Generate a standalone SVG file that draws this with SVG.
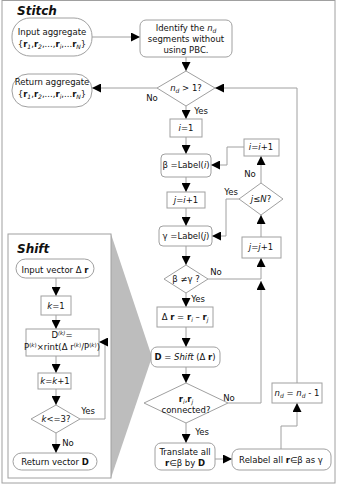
<svg xmlns="http://www.w3.org/2000/svg" width="337" height="485" viewBox="0 0 337 485">
<style>
text{font-family:"DejaVu Sans","Liberation Sans",sans-serif;font-size:8.5px;fill:#111;text-anchor:middle}
.t{font-size:12px;font-weight:bold;font-style:italic;text-anchor:start}
.b{font-weight:bold}
.i{font-style:italic}
.s{font-size:6px;font-style:italic}
.box{fill:#fff;stroke:#a0a0a0;stroke-width:1}
.c{fill:none;stroke:#a0a0a0;stroke-width:1}
</style>
<defs>
<marker id="a" markerUnits="userSpaceOnUse" markerWidth="10" markerHeight="9" refX="9" refY="4.5" orient="auto">
<path d="M0,0 L9,4.5 L0,9 z" fill="#000"/>
</marker>
</defs>
<rect x="2" y="0.5" width="333" height="482.5" fill="#fff" stroke="#a0a0a0"/>
<text class="t" x="17" y="15">Stitch</text>

<g id="shiftpanel">
<polygon points="111,234 152,357 111,478" fill="#bdbdbd"/>
<rect x="8" y="234" width="103" height="244" fill="#fff" stroke="#a0a0a0"/>
<text class="t" x="17" y="253">Shift</text>
</g>

<g id="connectors">
<path class="c" d="M92,37 H140" marker-end="url(#a)"/>
<path class="c" d="M186,57 V71" marker-end="url(#a)"/>
<path class="c" d="M157,88 H92" marker-end="url(#a)"/>
<path class="c" d="M186,106 V119" marker-end="url(#a)"/>
<path class="c" d="M186,137 V154" marker-end="url(#a)"/>
<path class="c" d="M186,177 V192" marker-end="url(#a)"/>
<path class="c" d="M186,208 V226" marker-end="url(#a)"/>
<path class="c" d="M186,246 V265" marker-end="url(#a)"/>
<path class="c" d="M186,293 V307" marker-end="url(#a)"/>
<path class="c" d="M186,327 V347" marker-end="url(#a)"/>
<path class="c" d="M186,367 V383" marker-end="url(#a)"/>
<path class="c" d="M186,423 V443" marker-end="url(#a)"/>
<path class="c" d="M215,459 H232" marker-end="url(#a)"/>
<path class="c" d="M281,449 V426 H297 V403" marker-end="url(#a)"/>
<path class="c" d="M297,383 V88 H215" marker-end="url(#a)"/>
<path class="c" d="M208,279 H261"/>
<path class="c" d="M228,403 H261 V281" marker-end="url(#a)"/>
<path class="c" d="M261,279 V258" marker-end="url(#a)"/>
<path class="c" d="M261,237 V215" marker-end="url(#a)"/>
<path class="c" d="M261,183 V156" marker-end="url(#a)"/>
<path class="c" d="M244,147 H227 V165 H211" marker-end="url(#a)"/>
<path class="c" d="M239,199 H226 V236 H212" marker-end="url(#a)"/>
<path class="c" d="M56,278 V296" marker-end="url(#a)"/>
<path class="c" d="M56,315 V329" marker-end="url(#a)"/>
<path class="c" d="M56,356 V373" marker-end="url(#a)"/>
<path class="c" d="M56,389 V405" marker-end="url(#a)"/>
<path class="c" d="M80,419 H105 V342 H99" marker-end="url(#a)"/>
<path class="c" d="M56,433 V453" marker-end="url(#a)"/>
<text x="152" y="101">No</text>
<text x="201" y="114">Yes</text>
<text x="250" y="177">No</text>
<text x="231" y="195">Yes</text>
<text x="216" y="275">No</text>
<text x="198" y="302">Yes</text>
<text x="229" y="401">No</text>
<text x="202" y="435">Yes</text>
<text x="88" y="414">Yes</text>
<text x="68" y="446">No</text>
</g>

<g id="input">
<rect class="box" x="12" y="18" width="80" height="38" rx="18"/>
<text x="52" y="35">Input aggregate</text>
<text x="52" y="47">{<tspan class="b">r</tspan><tspan class="s" dy="2">1</tspan><tspan dy="-2">,</tspan><tspan class="b">r</tspan><tspan class="s" dy="2">2</tspan><tspan dy="-2">,...,</tspan><tspan class="b">r</tspan><tspan class="s" dy="2">i</tspan><tspan dy="-2">,...</tspan><tspan class="b">r</tspan><tspan class="s" dy="2">N</tspan><tspan dy="-2">}</tspan></text>
</g>

<g id="identify">
<rect class="box" x="140" y="20" width="92" height="37" rx="6"/>
<text x="186" y="31">Identify the <tspan class="i">n</tspan><tspan class="s" dy="2">d</tspan></text>
<text x="186" y="42">segments without</text>
<text x="186" y="53">using PBC.</text>
</g>

<g id="return">
<rect class="box" x="12" y="74" width="80" height="33" rx="16"/>
<text x="52" y="85">Return aggregate</text>
<text x="52" y="97">{<tspan class="b">r</tspan><tspan class="s" dy="2">1</tspan><tspan dy="-2">,</tspan><tspan class="b">r</tspan><tspan class="s" dy="2">2</tspan><tspan dy="-2">,...,</tspan><tspan class="b">r</tspan><tspan class="s" dy="2">i</tspan><tspan dy="-2">,...</tspan><tspan class="b">r</tspan><tspan class="s" dy="2">N</tspan><tspan dy="-2">}</tspan></text>
</g>

<g id="ndgt1">
<polygon class="box" points="186,71 215,88 186,106 157,88"/>
<text x="186" y="91"><tspan class="i">n</tspan><tspan class="s" dy="2">d</tspan><tspan dy="-2"> &gt; 1?</tspan></text>
</g>

<g id="i1">
<rect class="box" x="170" y="119" width="32" height="18"/>
<text x="186" y="131"><tspan class="i">i</tspan>=1</text>
</g>

<g id="beta">
<rect class="box" x="161" y="154" width="50" height="23" rx="4"/>
<text x="186" y="168">β =Label(<tspan class="i">i</tspan>)</text>
</g>

<g id="jip1">
<rect class="box" x="167" y="192" width="38" height="16"/>
<text x="186" y="203"><tspan class="i">j</tspan>=<tspan class="i">i</tspan>+1</text>
</g>

<g id="gamma">
<rect class="box" x="159" y="226" width="53" height="20" rx="4"/>
<text x="186" y="239">γ =Label(<tspan class="i">j</tspan>)</text>
</g>

<g id="bneg">
<polygon class="box" points="186,265 208,279 186,293 164,279"/>
<text x="186" y="282">β ≠γ ?</text>
</g>

<g id="dr">
<rect class="box" x="157" y="307" width="56" height="20"/>
<text x="185" y="320">Δ <tspan class="b">r</tspan> = <tspan class="b">r</tspan><tspan class="s" dy="2">i</tspan><tspan dy="-2"> – </tspan><tspan class="b">r</tspan><tspan class="s" dy="2">j</tspan></text>
</g>

<g id="dshift">
<rect class="box" x="151" y="347" width="69" height="20" rx="6"/>
<text x="185" y="360"><tspan class="b">D</tspan> = <tspan class="i">Shift</tspan> (Δ <tspan class="b">r</tspan>)</text>
</g>

<g id="connected">
<polygon class="box" points="186,383 228,403 186,423 144,403"/>
<text x="186" y="402"><tspan class="b">r</tspan><tspan class="s" dy="2">i</tspan><tspan dy="-2">,</tspan><tspan class="b">r</tspan><tspan class="s" dy="2">j</tspan></text>
<text x="186" y="413">connected?</text>
</g>

<g id="translate">
<rect class="box" x="155" y="443" width="60" height="27" rx="6"/>
<text x="185" y="455">Translate all</text>
<text x="185" y="466"><tspan class="b">r</tspan>∈β  by <tspan class="b">D</tspan></text>
</g>

<g id="relabel">
<rect class="box" x="232" y="449" width="99" height="21" rx="7"/>
<text x="281" y="463">Relabel all <tspan class="b">r</tspan>∈β  as γ</text>
</g>

<g id="ndm1">
<rect class="box" x="272" y="383" width="50" height="20"/>
<text x="297" y="396"><tspan class="i">n</tspan><tspan class="s" dy="2">d</tspan><tspan dy="-2"> = </tspan><tspan class="i">n</tspan><tspan class="s" dy="2">d</tspan><tspan dy="-2"> - 1</tspan></text>
</g>

<g id="jjp1">
<rect class="box" x="242" y="237" width="39" height="21"/>
<text x="261" y="250"><tspan class="i">j</tspan>=<tspan class="i">j</tspan>+1</text>
</g>

<g id="jleN">
<polygon class="box" points="261,183 283,199 261,215 239,199"/>
<text x="261" y="202"><tspan class="i">j</tspan>≤<tspan class="i">N</tspan>?</text>
</g>

<g id="iip1">
<rect class="box" x="244" y="139" width="35" height="17"/>
<text x="261" y="150"><tspan class="i">i</tspan>=<tspan class="i">i</tspan>+1</text>
</g>

<g id="inputvec">
<rect class="box" x="16" y="259" width="78" height="19" rx="9.5"/>
<text x="55" y="273">Input vector Δ <tspan class="b">r</tspan></text>
</g>

<g id="k1">
<rect class="box" x="41" y="296" width="30" height="19"/>
<text x="56" y="309"><tspan class="i">k</tspan>=1</text>
</g>

<g id="dk">
<rect class="box" x="26" y="329" width="73" height="27"/>
<text x="62" y="338" font-size="7.8">D<tspan font-size="5.5" font-style="italic" dy="-3">(k)</tspan><tspan dy="3">=</tspan></text>
<text x="62" y="350" font-size="7.8">P<tspan font-size="5.5" dy="-3">(<tspan font-style="italic">k</tspan>)</tspan><tspan dy="3">×rint(Δ r</tspan><tspan font-size="5.5" dy="-3">(<tspan font-style="italic">k</tspan>)</tspan><tspan dy="3">/P</tspan><tspan font-size="5.5" dy="-3">(<tspan font-style="italic">k</tspan>)</tspan><tspan dy="3">)</tspan></text>
</g>

<g id="kk1">
<rect class="box" x="38" y="373" width="33" height="16"/>
<text x="55" y="384"><tspan class="i">k</tspan>=<tspan class="i">k</tspan>+1</text>
</g>

<g id="kle3">
<polygon class="box" points="56,405 80,419 56,433 31,419"/>
<text x="56" y="422"><tspan class="i">k</tspan>&lt;=3?</text>
</g>

<g id="retvec">
<rect class="box" x="13" y="453" width="84" height="17" rx="8.5"/>
<text x="55" y="465">Return vector <tspan class="b">D</tspan></text>
</g>
</svg>
